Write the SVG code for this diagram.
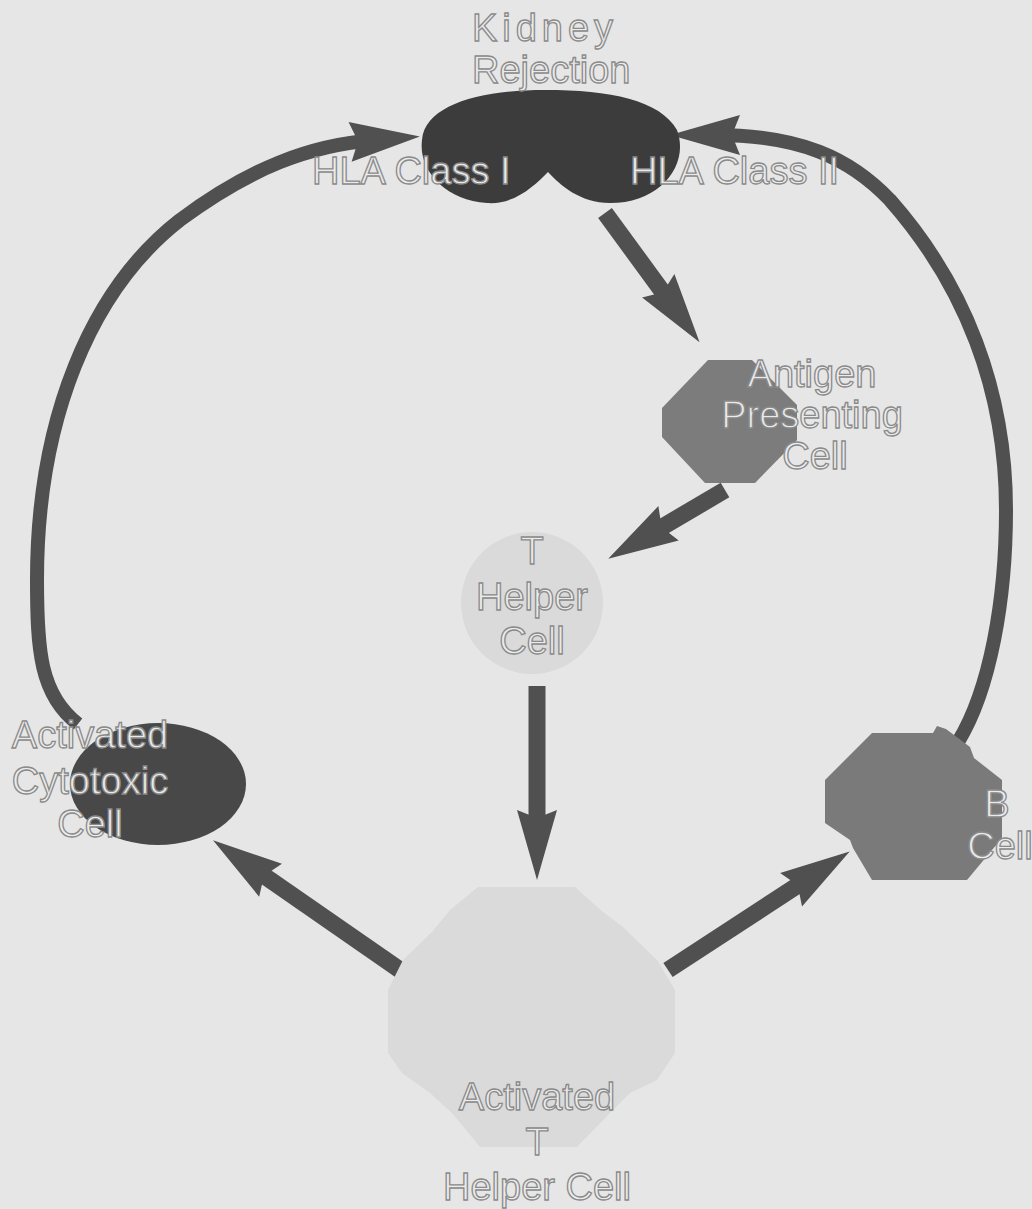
<svg xmlns="http://www.w3.org/2000/svg" width="1032" height="1209" viewBox="0 0 1032 1209">
<style>
.lbl{font-family:"Liberation Sans",Arial,sans-serif;font-size:38px;fill:#ebebeb;stroke:#8a8a8a;stroke-width:1.3px;}
.mid{text-anchor:middle;}
.conn{fill:none;stroke:#505050;marker-end:url(#ah);}
.straight{stroke-width:17;}
.arc{stroke-width:14;}
</style>
<defs>
<marker id="ah" markerUnits="userSpaceOnUse" markerWidth="80" markerHeight="50" refX="25" refY="20" orient="auto" overflow="visible">
<path d="M0,0 L70,20 L0,40 L8,20 Z" fill="#505050"/>
</marker>
</defs>
<rect x="0" y="0" width="1032" height="1209" fill="#e6e6e6"/>
<g id="connectors">
<path class="conn arc" d="M78,724 C40,695 37,650 37,580 C37,420 90,290 180,220 C250,168 310,145 375,140"/>
<path class="conn arc" d="M958,742 C990,690 1006,600 1006,510 C1006,390 965,285 890,200 C850,158 800,135 715,135"/>
<path class="conn straight" d="M605,213 L673,306"/>
<path class="conn straight" d="M725,490 L647,536"/>
<path class="conn straight" d="M537,686 L537,835"/>
<path class="conn straight" d="M400,970 L250,866"/>
<path class="conn straight" d="M668,970 L812,876"/>
</g>
<g id="kidney-rejection">
<path d="M422,140 C425,105 480,90 545,90 C610,90 660,100 677,130 C690,165 660,203 610,203 C580,203 560,185 548,172 C535,185 515,205 487,203 C445,200 418,170 422,140 Z" fill="#3c3c3c"/>
<text class="lbl" x="472" y="41" textLength="141" lengthAdjust="spacing">Kidney</text>
<text class="lbl" x="472" y="83">Rejection</text>
<text class="lbl" x="312" y="184">HLA Class I</text>
<text class="lbl" x="630" y="184">HLA Class II</text>
</g>
<g id="antigen-presenting-cell">
<polygon points="708,360 752,360 797,405 797,440 755,483 705,483 662,437 662,408" fill="#7c7c7c"/>
<text class="lbl mid" x="812" y="387">Antigen</text>
<text class="lbl mid" x="812" y="428">Presenting</text>
<text class="lbl mid" x="815" y="469">Cell</text>
</g>
<g id="t-helper-cell">
<circle cx="532" cy="603" r="71" fill="#dadada"/>
<text class="lbl mid" x="532" y="564">T</text>
<text class="lbl mid" x="532" y="610">Helper</text>
<text class="lbl mid" x="532" y="654">Cell</text>
</g>
<g id="activated-cytotoxic-cell">
<ellipse cx="158" cy="784" rx="88" ry="61" fill="#484848"/>
<text class="lbl mid" x="90" y="748">Activated</text>
<text class="lbl mid" x="90" y="794">Cytotoxic</text>
<text class="lbl mid" x="90" y="837">Cell</text>
</g>
<g id="b-cell">
<polygon points="872,733 933,733 937,726 946,729 970,747 974,758 1002,780 1002,838 967,880 872,880 853,848 850,840 825,823 825,780" fill="#7a7a7a"/>
<text class="lbl mid" x="997" y="817">B</text>
<text class="lbl mid" x="1000" y="859">Cell</text>
</g>
<g id="activated-t-helper-cell">
<polygon points="478,887 575,887 603,912 623,927 657,960 675,990 675,1053 657,1080 630,1093 610,1113 577,1147 480,1147 452,1113 430,1093 402,1073 388,1053 388,990 403,960 432,932 450,910" fill="#dadada"/>
<text class="lbl mid" x="537" y="1110">Activated</text>
<text class="lbl mid" x="537" y="1155">T</text>
<text class="lbl mid" x="537" y="1200">Helper Cell</text>
</g>
</svg>
